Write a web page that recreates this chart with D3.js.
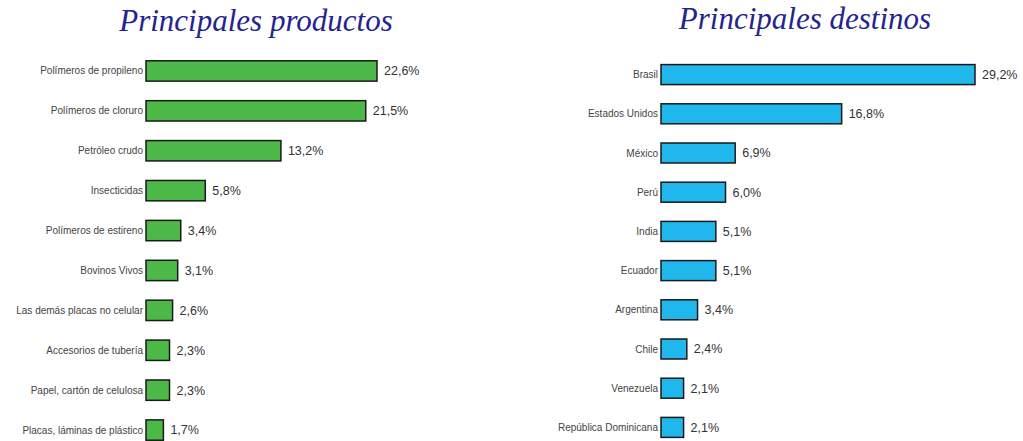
<!DOCTYPE html>
<html>
<head>
<meta charset="utf-8">
<script src="https://cdn.jsdelivr.net/npm/d3@7"></script>
<style>
  body { margin: 0; background: #fff; }
  svg { display: block; }
</style>
</head>
<body>
<svg id="chart"></svg>
<script>
const productos = ["Polímeros de propileno", "Polímeros de cloruro", "Petróleo crudo", "Insecticidas",
    "Polímeros de estireno", "Bovinos Vivos", "Las demás placas no celular", "Accesorios de tubería",
    "Papel, cartón de celulosa", "Placas, láminas de plástico"];
const productosValores = [22.6, 21.5, 13.2, 5.8, 3.4, 3.1, 2.6, 2.3, 2.3, 1.7];

const destinos = ["Brasil", "Estados Unidos", "México", "Perú", "India", "Ecuador",
    "Argentina", "Chile", "Venezuela", "República Dominicana"];
const destinosValores = [29.2, 16.8, 6.9, 6.0, 5.1, 5.1, 3.4, 2.4, 2.1, 2.1];

const width = 1023;
const height = 441;

const svg = d3.select("#chart")
    .attr("width", width)
    .attr("height", height);

function drawPanel(opts) {
    const g = svg.append("g");

    g.append("text")
        .attr("x", opts.titleX)
        .attr("y", opts.titleY)
        .attr("text-anchor", "middle")
        .attr("font-family", "Liberation Serif")
        .attr("font-style", "italic")
        .attr("font-size", 31)
        .attr("fill", "#24248f")
        .text(opts.title);

    const x = d3.scaleLinear()
        .domain([0, opts.maxVal])
        .range([opts.x0, opts.x1]);

    const y = d3.scaleBand()
        .domain(opts.labels)
        .range([opts.yTop, opts.yTop + opts.step * opts.labels.length])
        .paddingInner(0.49)
        .paddingOuter(0.245);

    const rows = opts.labels.map((d, i) => ({ label: d, value: opts.values[i] }));

    g.selectAll("rect.bar")
        .data(rows)
        .join("rect")
        .attr("class", "bar")
        .attr("x", x(0))
        .attr("y", d => y(d.label))
        .attr("width", d => x(d.value) - x(0))
        .attr("height", y.bandwidth())
        .attr("fill", opts.color)
        .attr("stroke", "#1a1a1a")
        .attr("stroke-width", 1.5);

    g.selectAll("text.cat")
        .data(rows)
        .join("text")
        .attr("class", "cat")
        .attr("x", x(0) - 3)
        .attr("y", d => y(d.label) + y.bandwidth() / 2)
        .attr("dy", "0.35em")
        .attr("text-anchor", "end")
        .attr("font-family", "Liberation Sans")
        .attr("font-size", 10)
        .attr("fill", "#444")
        .text(d => d.label);

    g.selectAll("text.val")
        .data(rows)
        .join("text")
        .attr("class", "val")
        .attr("x", d => x(d.value) + 7)
        .attr("y", d => y(d.label) + y.bandwidth() / 2)
        .attr("dy", "0.35em")
        .attr("font-family", "Liberation Sans")
        .attr("font-size", 12.5)
        .attr("fill", "#333")
        .text(d => d.value.toFixed(1).replace(".", ",") + "%");
}

drawPanel({
    title: "Principales productos",
    titleX: 256, titleY: 31,
    labels: productos, values: productosValores,
    maxVal: 22.6, x0: 146, x1: 377,
    yTop: 51, step: 39.9,
    color: "#4cb848"
});

drawPanel({
    title: "Principales destinos",
    titleX: 805, titleY: 29,
    labels: destinos, values: destinosValores,
    maxVal: 29.2, x0: 661, x1: 975,
    yTop: 55, step: 39.2,
    color: "#1fb7ec"
});
</script>
</body>
</html>
